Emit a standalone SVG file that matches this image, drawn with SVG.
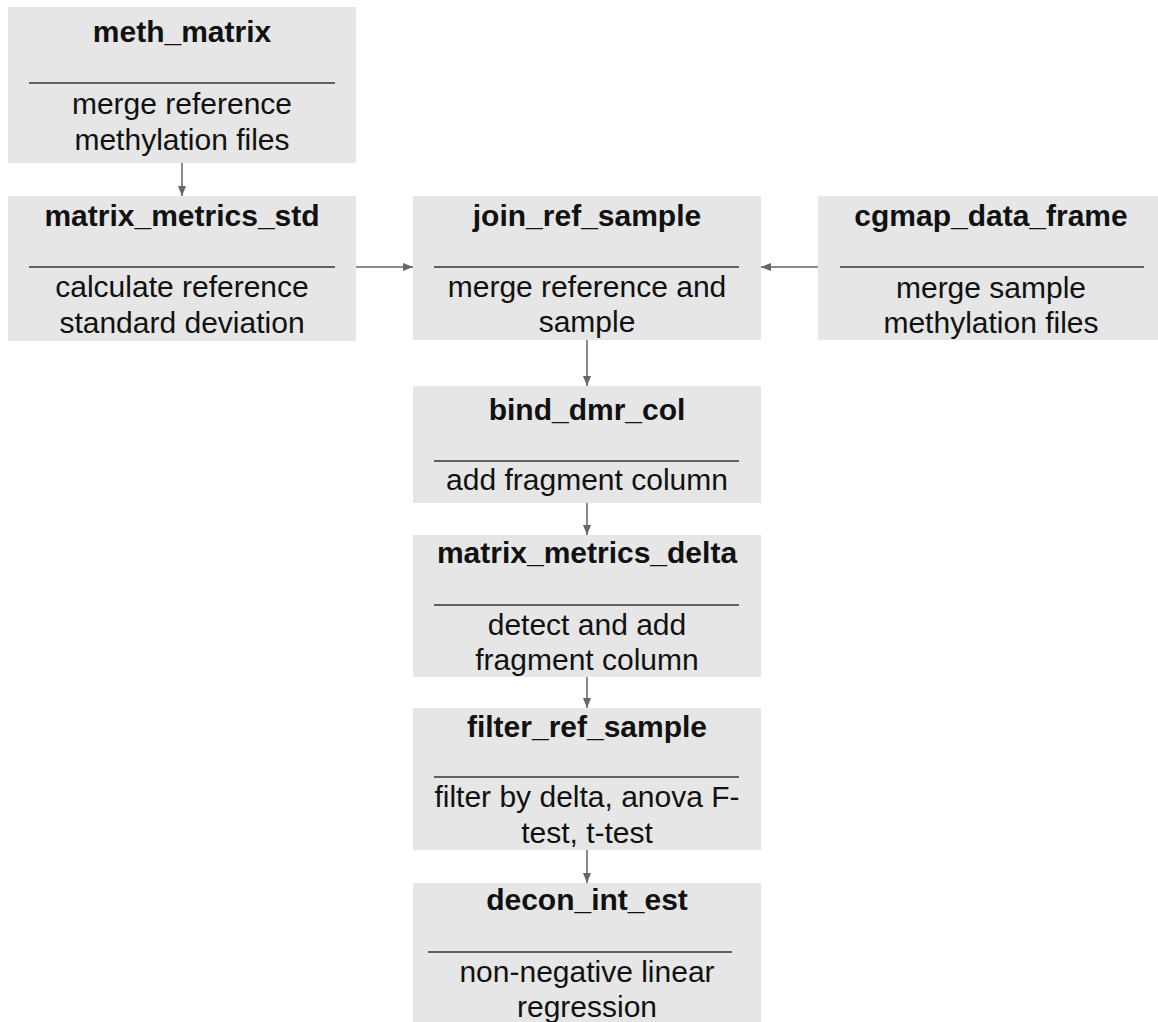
<svg xmlns="http://www.w3.org/2000/svg" width="1158" height="1022" viewBox="0 0 1158 1022">
<style>
.box{fill:#e6e6e6;}
.sep{stroke:#333;stroke-width:1.6;}
.t{font-family:"Liberation Sans",Arial,sans-serif;font-size:30px;font-weight:bold;fill:#111;text-anchor:middle;}
.d{font-family:"Liberation Sans",Arial,sans-serif;font-size:30px;fill:#111;text-anchor:middle;}
.c{stroke:#666;stroke-width:1.5;fill:none;marker-end:url(#ah);}
</style>
<defs>
<marker id="ah" markerUnits="userSpaceOnUse" markerWidth="10" markerHeight="8" refX="10" refY="4" orient="auto">
<path d="M0,0 L10,4 L0,8 z" fill="#666"/>
</marker>
</defs>
<rect width="1158" height="1022" fill="#fff"/>
<g id="meth_matrix">
<rect class="box" x="8" y="7" width="348" height="156"/>
<text class="t" x="182" y="42">meth_matrix</text>
<line class="sep" x1="29" y1="83" x2="335" y2="83"/>
<text class="d" x="182" y="114">merge reference</text>
<text class="d" x="182" y="150">methylation files</text>
</g>
<g id="matrix_metrics_std">
<rect class="box" x="8" y="196" width="348" height="145"/>
<text class="t" x="182" y="226">matrix_metrics_std</text>
<line class="sep" x1="29" y1="267" x2="335" y2="267"/>
<text class="d" x="182" y="297">calculate reference</text>
<text class="d" x="182" y="333">standard deviation</text>
</g>
<g id="join_ref_sample">
<rect class="box" x="413" y="196" width="348" height="144"/>
<text class="t" x="587" y="226">join_ref_sample</text>
<line class="sep" x1="434" y1="267" x2="739" y2="267"/>
<text class="d" x="587" y="297">merge reference and</text>
<text class="d" x="587" y="332">sample</text>
</g>
<g id="cgmap_data_frame">
<rect class="box" x="818" y="196" width="347" height="144"/>
<text class="t" x="991" y="226">cgmap_data_frame</text>
<line class="sep" x1="840" y1="267" x2="1144" y2="267"/>
<text class="d" x="991" y="298">merge sample</text>
<text class="d" x="991" y="333">methylation files</text>
</g>
<g id="bind_dmr_col">
<rect class="box" x="413" y="386" width="348" height="117"/>
<text class="t" x="587" y="420">bind_dmr_col</text>
<line class="sep" x1="434" y1="461" x2="739" y2="461"/>
<text class="d" x="587" y="490">add fragment column</text>
</g>
<g id="matrix_metrics_delta">
<rect class="box" x="413" y="535" width="348" height="142"/>
<text class="t" x="587" y="563">matrix_metrics_delta</text>
<line class="sep" x1="434" y1="605" x2="739" y2="605"/>
<text class="d" x="587" y="635">detect and add</text>
<text class="d" x="587" y="670">fragment column</text>
</g>
<g id="filter_ref_sample">
<rect class="box" x="413" y="708" width="348" height="142"/>
<text class="t" x="587" y="737">filter_ref_sample</text>
<line class="sep" x1="434" y1="777" x2="739" y2="777"/>
<text class="d" x="587" y="807">filter by delta, anova F-</text>
<text class="d" x="587" y="843">test, t-test</text>
</g>
<g id="decon_int_est">
<rect class="box" x="413" y="883" width="348" height="150"/>
<text class="t" x="587" y="910">decon_int_est</text>
<line class="sep" x1="428" y1="952" x2="732" y2="952"/>
<text class="d" x="587" y="982">non-negative linear</text>
<text class="d" x="587" y="1017">regression</text>
</g>
<g id="connectors">
<line class="c" x1="182" y1="163" x2="182" y2="196"/>
<line class="c" x1="356" y1="267" x2="413" y2="267"/>
<line class="c" x1="818" y1="267" x2="761" y2="267"/>
<line class="c" x1="587" y1="340" x2="587" y2="386"/>
<line class="c" x1="587" y1="503" x2="587" y2="535"/>
<line class="c" x1="587" y1="677" x2="587" y2="708"/>
<line class="c" x1="587" y1="850" x2="587" y2="883"/>
</g>
</svg>
